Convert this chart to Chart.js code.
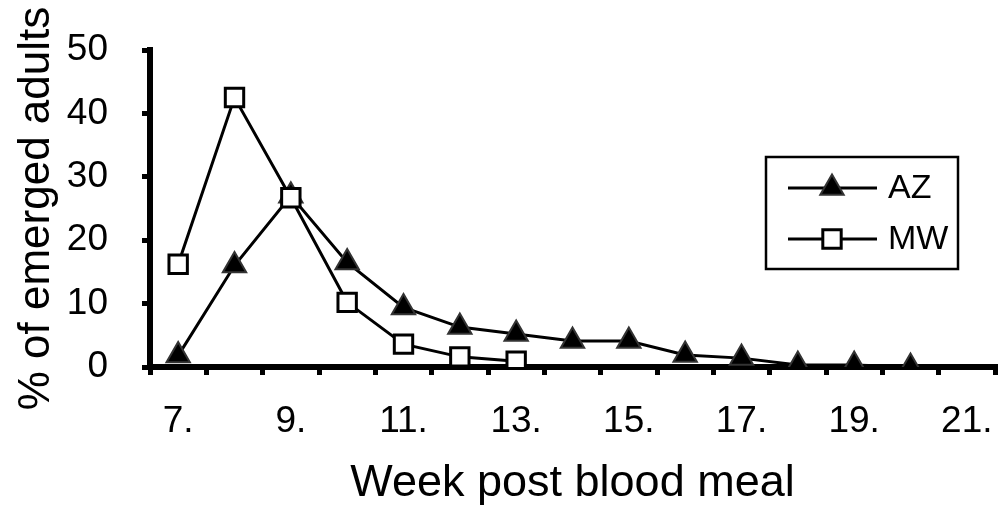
<!DOCTYPE html>
<html>
<head>
<meta charset="utf-8">
<script src="https://cdn.jsdelivr.net/npm/chart.js@4/dist/chart.umd.min.js"></script>
<style>
  html, body { margin: 0; padding: 0; background: #fff; }
  #wrap { width: 1001px; height: 515px; }
</style>
</head>
<body>
<div id="wrap"><canvas id="myChart" width="1001" height="515"></canvas></div>
<script>
// Datos
const weeks = [7, 8, 9, 10, 11, 12, 13, 14, 15, 16, 17, 18, 19, 20, 21];
const weekLabels = ['7.', '', '9.', '', '11.', '', '13.', '', '15.', '', '17.', '', '19.', '', '21.'];
const azValues = [1.8, 16.0, 27.0, 16.5, 9.4, 6.3, 5.2, 4.1, 4.1, 1.9, 1.4, 0.3, 0.3, 0, null];
const mwValues = [16.2, 42.5, 26.7, 10.2, 3.6, 1.6, 0.9];
const seriesNames = ['AZ', 'MW'];
const yTicks = [0, 10, 20, 30, 40, 50];

const FONT = "'Liberation Sans', Arial, sans-serif";

// Leyenda con marco dentro del área del gráfico
const boxLegend = {
    id: 'boxLegend',
    afterDraw(chart) {
        const ctx = chart.ctx;
        const box = { x: 766, y: 157, w: 192, h: 112 };
        ctx.save();
        ctx.lineWidth = 2.5;
        ctx.strokeStyle = '#000';
        ctx.strokeRect(box.x, box.y, box.w, box.h);

        chart.data.datasets.forEach((ds, i) => {
            const y = box.y + 31 + i * 51;
            ctx.beginPath();
            ctx.lineWidth = ds.borderWidth;
            ctx.strokeStyle = ds.borderColor;
            ctx.moveTo(box.x + 22, y);
            ctx.lineTo(box.x + 111, y);
            ctx.stroke();
            ctx.fillStyle = ds.pointBackgroundColor;
            ctx.strokeStyle = ds.pointBorderColor;
            ctx.lineWidth = ds.pointBorderWidth;
            Chart.helpers.drawPoint(ctx, {
                pointStyle: ds.pointStyle,
                radius: ds.pointRadius,
                rotation: 0,
                borderWidth: ds.pointBorderWidth
            }, box.x + 66, y);
            ctx.fillStyle = '#000';
            ctx.font = '34px ' + FONT;
            ctx.textBaseline = 'middle';
            ctx.textAlign = 'left';
            ctx.fillText(ds.label, box.x + 122, y + 1);
        });
        ctx.restore();
    }
};

const ctx = document.getElementById('myChart').getContext('2d');
const myChart = new Chart(ctx, {
    type: 'line',
    data: {
        labels: weeks,
        datasets: [
            {
                label: seriesNames[0],
                data: azValues,
                borderColor: '#000',
                borderWidth: 3,
                pointStyle: 'triangle',
                pointRadius: 13.5,
                pointBackgroundColor: '#000',
                pointBorderColor: '#333',
                pointBorderWidth: 2,
                fill: false,
                tension: 0,
                order: 1
            },
            {
                label: seriesNames[1],
                data: mwValues,
                borderColor: '#000',
                borderWidth: 3,
                pointStyle: 'rect',
                pointRadius: 13,
                pointBackgroundColor: '#fff',
                pointBorderColor: '#000',
                pointBorderWidth: 3,
                fill: false,
                tension: 0,
                order: 0
            }
        ]
    },
    options: {
        responsive: false,
        animation: false,
        layout: { autoPadding: false, padding: { top: 50, right: 6, left: 0, bottom: 0 } },
        plugins: {
            legend: { display: false },
            tooltip: { enabled: false }
        },
        scales: {
            x: {
                type: 'category',
                offset: true,
                grid: {
                    offset: true,
                    drawOnChartArea: false,
                    color: '#000',
                    lineWidth: 5,
                    tickLength: 8,
                    tickWidth: 5,
                    tickColor: '#000'
                },
                border: { display: true, color: '#000', width: 6 },
                ticks: {
                    autoSkip: false,
                    maxRotation: 0,
                    padding: 25,
                    color: '#000',
                    font: { family: FONT, size: 37 },
                    callback: (value, index) => weekLabels[index]
                },
                title: {
                    display: true,
                    text: 'Week post blood meal',
                    color: '#000',
                    font: { family: FONT, size: 45 },
                    padding: { top: 0, bottom: 4 }
                },
                afterFit: (scale) => {
                    scale.height = 148;
                    scale.paddingLeft = 0;
                    scale.paddingRight = 0;
                }
            },
            y: {
                min: 0,
                max: 50,
                afterBuildTicks: (scale) => { scale.ticks = yTicks.map(v => ({ value: v })); },
                grid: {
                    drawOnChartArea: false,
                    color: '#000',
                    lineWidth: 5,
                    tickLength: 8,
                    tickWidth: 5,
                    tickColor: '#000'
                },
                border: { display: true, color: '#000', width: 6 },
                ticks: {
                    padding: 34,
                    color: '#000',
                    font: { family: FONT, size: 37 }
                },
                title: {
                    display: true,
                    text: '% of emerged adults',
                    color: '#000',
                    font: { family: FONT, size: 44 },
                    padding: { top: 10, bottom: 0 }
                },
                afterFit: (scale) => {
                    scale.width = 150;
                    scale.paddingTop = 0;
                    scale.paddingBottom = 0;
                }
            }
        }
    },
    plugins: [boxLegend]
});
</script>
</body>
</html>
